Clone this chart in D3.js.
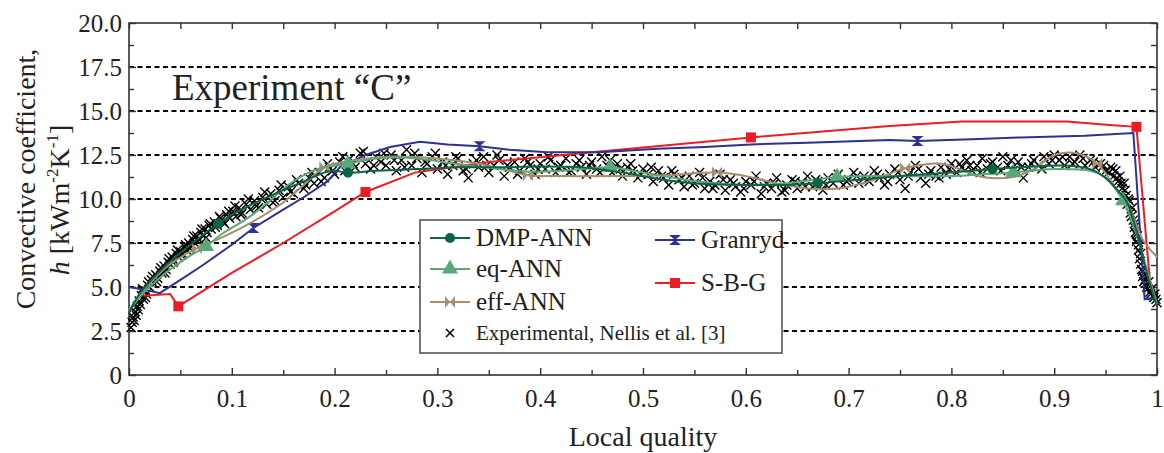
<!DOCTYPE html>
<html>
<head>
<meta charset="utf-8">
<script src="https://cdn.jsdelivr.net/npm/d3@7"></script>
<style>
  body { margin: 0; background: #fff; }
</style>
</head>
<body>
<div class="canva"></div>
<script>
// ---- data ----
const xTicks = [0, 0.1, 0.2, 0.3, 0.4, 0.5, 0.6, 0.7, 0.8, 0.9, 1];
const xTickLabels = ['0', '0.1', '0.2', '0.3', '0.4', '0.5', '0.6', '0.7', '0.8', '0.9', '1'];
const yTicks = [0, 2.5, 5, 7.5, 10, 12.5, 15, 17.5, 20];
const yTickLabels = ['0', '2.5', '5.0', '7.5', '10.0', '12.5', '15.0', '17.5', '20.0'];

const dmpX = [0, 0.005, 0.01, 0.02, 0.03, 0.045, 0.06, 0.075, 0.087, 0.1, 0.12, 0.15, 0.17, 0.19, 0.2, 0.213, 0.24, 0.28, 0.32, 0.36, 0.4, 0.44, 0.48, 0.52, 0.56, 0.6, 0.64, 0.67, 0.71, 0.75, 0.8, 0.84, 0.88, 0.91, 0.935, 0.95, 0.96, 0.97, 0.98, 0.99, 1.0];
const dmpH = [3.5, 4.1, 4.6, 5.3, 5.9, 6.7, 7.4, 8.1, 8.6, 9.1, 9.7, 10.5, 11.0, 11.5, 11.6, 11.5, 11.6, 11.7, 11.8, 11.8, 11.85, 11.8, 11.5, 11.1, 10.85, 10.8, 10.8, 10.9, 11.1, 11.3, 11.5, 11.7, 11.85, 11.9, 11.7, 11.2, 10.6, 9.9, 8.2, 5.8, 3.9];
const dmpMarkX = [0.087, 0.213, 0.67, 0.84];

const eqX = [0, 0.01, 0.02, 0.04, 0.06, 0.075, 0.09, 0.115, 0.135, 0.155, 0.175, 0.19, 0.213, 0.24, 0.27, 0.3, 0.33, 0.36, 0.39, 0.42, 0.45, 0.468, 0.5, 0.53, 0.56, 0.6, 0.64, 0.689, 0.72, 0.76, 0.8, 0.83, 0.86, 0.9, 0.935, 0.95, 0.967, 0.98, 0.99, 1.0];
const eqH = [3.6, 4.4, 5.0, 6.0, 6.8, 7.3, 8.0, 8.9, 9.8, 10.8, 11.5, 11.8, 12.0, 12.3, 12.35, 12.15, 11.9, 11.7, 11.55, 11.6, 11.75, 11.8, 11.5, 11.2, 10.95, 10.8, 10.9, 11.25, 11.3, 11.3, 11.3, 11.4, 11.5, 11.7, 11.6, 11.2, 9.9, 8.0, 6.0, 4.0];
const eqMarkX = [0.075, 0.213, 0.468, 0.689, 0.86, 0.967];

const effX = [0, 0.01, 0.02, 0.04, 0.066, 0.09, 0.12, 0.15, 0.17, 0.19, 0.22, 0.25, 0.3, 0.34, 0.37, 0.388, 0.42, 0.47, 0.52, 0.572, 0.6, 0.63, 0.66, 0.69, 0.72, 0.755, 0.79, 0.83, 0.86, 0.88, 0.9, 0.922, 0.942, 0.961, 0.974, 0.986, 1.0];
const effH = [3.7, 4.5, 5.2, 6.3, 7.2, 7.8, 8.7, 9.8, 10.8, 11.8, 12.2, 12.4, 12.3, 12.0, 11.6, 11.35, 11.3, 11.3, 11.35, 11.5, 11.3, 10.9, 10.6, 10.6, 11.0, 11.75, 12.0, 11.25, 11.25, 11.7, 12.5, 12.6, 12.0, 10.5, 9.4, 7.7, 6.7];
const effMarkX = [0.066, 0.19, 0.388, 0.572, 0.755, 0.942];

const granX = [0, 0.015, 0.03, 0.05, 0.072, 0.1, 0.121, 0.15, 0.17, 0.193, 0.205, 0.23, 0.254, 0.283, 0.31, 0.341, 0.37, 0.407, 0.458, 0.514, 0.56, 0.605, 0.66, 0.74, 0.767, 0.82, 0.867, 0.93, 0.977, 0.988, 1.0];
const granH = [5.0, 4.85, 4.65, 5.4, 6.25, 7.4, 8.35, 9.4, 10.1, 11.0, 11.8, 12.5, 12.95, 13.25, 13.1, 13.0, 12.8, 12.65, 12.65, 12.85, 12.95, 13.1, 13.2, 13.35, 13.3, 13.4, 13.5, 13.6, 13.75, 4.3, 4.4];
const granMarkX = [0.121, 0.341, 0.767];

const sbgX = [0.014, 0.04, 0.048, 0.1, 0.15, 0.2, 0.23, 0.278, 0.35, 0.458, 0.605, 0.74, 0.81, 0.912, 0.954, 0.98, 0.993, 1.0];
const sbgH = [4.5, 4.6, 3.9, 5.8, 7.5, 9.3, 10.4, 11.5, 12.1, 12.7, 13.5, 14.15, 14.4, 14.4, 14.2, 14.1, 5.4, 4.1];
const sbgMarkX = [0.048, 0.23, 0.605, 0.98];

// experimental points, Nellis et al. (two passes over the cloud)
const expX = [0.002, 0.003, 0.004, 0.005, 0.006, 0.007, 0.008, 0.009, 0.010, 0.011, 0.012, 0.014, 0.015, 0.017, 0.018, 0.020,
  0.022, 0.024, 0.026, 0.028, 0.030, 0.032, 0.034, 0.036, 0.038, 0.040, 0.042, 0.044, 0.046, 0.048, 0.050, 0.052, 0.054, 0.056, 0.058, 0.060,
  0.062, 0.064, 0.066, 0.068, 0.070, 0.072, 0.074, 0.076, 0.078, 0.080, 0.083, 0.086, 0.089, 0.092, 0.095, 0.098,
  0.101, 0.104, 0.107, 0.110, 0.114, 0.118, 0.122, 0.126, 0.130, 0.134, 0.138, 0.142, 0.146, 0.150, 0.155, 0.160, 0.165, 0.170, 0.175, 0.180, 0.185, 0.190, 0.195, 0.200,
  0.205, 0.210, 0.215, 0.220, 0.225, 0.230, 0.235, 0.240, 0.245, 0.250, 0.255, 0.260, 0.265, 0.270, 0.275, 0.280, 0.285, 0.290, 0.295, 0.300,
  0.305, 0.310, 0.315, 0.320, 0.325, 0.330, 0.335, 0.340, 0.345, 0.350, 0.355, 0.360, 0.365, 0.370, 0.375, 0.380, 0.385, 0.390, 0.395, 0.400,
  0.405, 0.410, 0.415, 0.420, 0.425, 0.430, 0.435, 0.440, 0.445, 0.450, 0.455, 0.460, 0.465, 0.470, 0.475, 0.480, 0.485, 0.490, 0.495, 0.500,
  0.505, 0.510, 0.515, 0.520, 0.525, 0.530, 0.535, 0.540, 0.545, 0.550, 0.555, 0.560, 0.565, 0.570, 0.575, 0.580, 0.585, 0.590, 0.595, 0.600,
  0.605, 0.610, 0.615, 0.620, 0.625, 0.630, 0.635, 0.640, 0.645, 0.650, 0.655, 0.660, 0.665, 0.670, 0.675, 0.680, 0.685, 0.690, 0.695, 0.700,
  0.705, 0.710, 0.715, 0.720, 0.725, 0.730, 0.735, 0.740, 0.745, 0.750, 0.755, 0.760, 0.765, 0.770, 0.775, 0.780, 0.785, 0.790, 0.795, 0.800,
  0.805, 0.810, 0.815, 0.820, 0.825, 0.830, 0.835, 0.840, 0.845, 0.850, 0.855, 0.860, 0.865, 0.870, 0.875, 0.880, 0.885, 0.890, 0.895, 0.900,
  0.905, 0.910, 0.915, 0.920, 0.925, 0.930, 0.935, 0.940, 0.945, 0.950, 0.955,
  0.958, 0.960, 0.962, 0.964, 0.966, 0.968, 0.970, 0.971, 0.973, 0.974, 0.976, 0.977, 0.978, 0.979, 0.980, 0.981, 0.982, 0.983, 0.984, 0.985,
  0.986, 0.987, 0.989, 0.990, 0.992, 0.993, 0.995, 0.996, 0.998, 0.999, 1.000];
const expH = [2.7, 3.0, 3.3, 3.1, 3.6, 3.4, 3.9, 3.7, 4.2, 4.0, 4.5, 4.3, 4.8, 4.6, 5.1, 5.0,
  5.4, 5.2, 5.7, 5.5, 5.9, 5.8, 6.2, 6.0, 6.4, 6.3, 6.7, 6.5, 6.9, 6.7, 7.0, 6.9, 7.3, 7.1, 7.5, 7.3,
  7.7, 7.5, 7.9, 7.7, 8.1, 7.9, 8.3, 8.1, 8.5, 8.3, 8.7, 8.5, 8.9, 8.7, 9.1, 8.9,
  9.3, 9.0, 9.5, 9.2, 9.7, 9.4, 9.9, 9.5, 10.1, 9.7, 10.3, 9.9, 10.5, 10.1, 10.7, 10.3, 10.9, 10.6, 11.2, 10.9, 11.5, 11.2, 11.8, 11.4,
  12.1, 11.6, 12.3, 11.8, 12.6, 12.0, 11.7, 12.4, 12.1, 11.9, 12.5, 11.6, 12.2, 12.8, 11.9, 12.3, 11.5, 12.0, 12.4, 11.7,
  12.1, 11.4, 11.9, 12.3, 11.6, 11.2, 12.0, 11.8, 12.4, 11.5, 11.9, 12.2, 11.3, 11.8, 12.1, 11.6, 12.3, 11.9, 11.4, 12.0,
  11.7, 12.2, 11.5, 11.9, 12.3, 11.6, 12.0, 11.8, 11.4, 12.1, 11.7, 12.4, 11.9, 11.5, 12.0, 11.3, 11.8, 11.6, 11.2, 11.7,
  11.4, 11.0, 11.6, 11.2, 10.8, 11.4, 11.1, 10.7, 11.3, 10.9, 11.5, 10.6, 11.0, 10.8, 11.4, 10.5, 11.1, 10.7, 10.4, 11.0,
  10.8, 11.3, 10.3, 10.9, 10.6, 11.2, 10.4, 10.8, 11.1, 10.6, 10.9, 11.3, 10.7, 11.0, 10.5, 11.2, 10.9, 11.4, 10.8, 11.1,
  11.5, 10.9, 11.3, 11.0, 11.6, 11.2, 10.8, 11.4, 11.7, 11.1, 10.6, 11.5, 11.9, 11.2, 10.9, 11.6, 11.3, 11.8, 11.4, 12.0,
  11.5, 11.8, 12.2, 11.6, 11.9, 12.3, 11.7, 12.1, 11.8, 12.4, 11.9, 11.6, 12.1, 11.2, 11.8, 12.2, 11.9, 12.4, 12.0, 12.5,
  12.2, 11.9, 12.4, 12.1, 12.5, 11.9, 12.2, 11.8, 12.0, 11.6, 11.8,
  11.3, 11.6, 11.0, 11.3, 10.6, 10.9, 10.2, 9.7, 9.9, 9.2, 9.5, 8.8, 8.4, 8.1, 7.6, 7.9, 7.1, 6.6, 6.9, 6.0,
  5.6, 5.3, 5.6, 5.0, 5.3, 4.7, 4.9, 4.5, 4.6, 4.3, 4.1];
const expX2 = [0.013, 0.016, 0.019, 0.023, 0.027, 0.031, 0.035, 0.039, 0.043, 0.047, 0.051, 0.055, 0.059, 0.063, 0.067, 0.071, 0.075, 0.079, 0.084, 0.088, 0.093, 0.097,
  0.103, 0.109, 0.116, 0.124, 0.132, 0.140, 0.148, 0.157, 0.163, 0.172, 0.178, 0.187, 0.193, 0.198,
  0.208, 0.218, 0.228, 0.238, 0.248, 0.258, 0.268, 0.278, 0.288, 0.298, 0.308, 0.318, 0.328, 0.338, 0.348, 0.358, 0.368, 0.378, 0.388, 0.398,
  0.408, 0.418, 0.428, 0.438, 0.448, 0.458, 0.468, 0.478, 0.488, 0.498, 0.508, 0.518, 0.528, 0.538, 0.548, 0.558, 0.568, 0.578, 0.588, 0.598,
  0.608, 0.618, 0.628, 0.638, 0.648, 0.658, 0.668, 0.678, 0.688, 0.698, 0.708, 0.718, 0.728, 0.738, 0.748, 0.758, 0.768, 0.778, 0.788, 0.798,
  0.808, 0.818, 0.828, 0.838, 0.848, 0.858, 0.868, 0.878, 0.888, 0.898, 0.908, 0.918, 0.928, 0.938, 0.948,
  0.953, 0.957, 0.961, 0.965, 0.969, 0.972, 0.975, 0.978, 0.980, 0.982, 0.984, 0.986, 0.988, 0.991, 0.994, 0.997];
const expH2 = [4.9, 4.4, 5.3, 5.6, 5.3, 6.1, 5.8, 6.6, 6.4, 7.1, 6.8, 7.4, 7.2, 7.9, 7.6, 8.3, 7.8, 8.6, 8.4, 9.0, 8.6, 9.3,
  9.6, 9.1, 10.0, 9.6, 10.4, 9.8, 10.8, 10.4, 11.1, 10.8, 11.5, 11.0, 12.0, 11.6,
  12.4, 12.0, 12.7, 11.9, 12.6, 12.2, 11.8, 12.6, 12.1, 12.6, 11.9, 12.4, 11.7, 12.2, 11.9, 12.5, 11.9, 11.4, 12.1, 11.7,
  12.4, 11.8, 11.5, 12.2, 11.9, 11.5, 12.2, 11.7, 12.0, 11.4, 11.8, 11.3, 11.6, 11.2, 10.8, 11.2, 10.6, 11.1, 10.9, 10.6,
  11.0, 10.7, 10.9, 10.5, 11.0, 10.7, 11.1, 10.8, 11.2, 11.0, 11.3, 11.1, 11.4, 11.0, 11.5, 11.3, 11.7, 11.4, 11.2, 11.7,
  12.0, 11.9, 11.5, 12.0, 11.6, 12.2, 11.8, 12.0, 11.7, 12.2, 12.4, 12.0, 12.3, 12.1, 11.9,
  11.5, 11.7, 11.2, 10.9, 10.5, 10.0, 9.0, 8.6, 8.0, 7.4, 6.3, 5.9, 5.4, 4.9, 4.6, 4.4];

// ---- layout ----
const W = 1164, H = 453;
const margin = {top: 23, right: 7, bottom: 78, left: 129};
const gw = W - margin.left - margin.right;
const gh = H - margin.top - margin.bottom;
const serif = '"Liberation Serif", "Times New Roman", "DejaVu Serif", serif';

const svg = d3.select('.canva').append('svg')
              .attr('width', W)
              .attr('height', H)
              .style('font-family', serif);

const graph = svg.append('g')
                 .attr('transform', `translate(${margin.left}, ${margin.top})`);

const x = d3.scaleLinear().domain([0, 1]).range([0, gw]);
const y = d3.scaleLinear().domain([0, 20]).range([gh, 0]);

//dashed grid
graph.append('g')
     .selectAll('line')
     .data(yTicks.filter(t => t > 0 && t < 20))
     .enter().append('line')
     .attr('x1', 0).attr('x2', gw)
     .attr('y1', d => y(d)).attr('y2', d => y(d))
     .attr('stroke', '#000')
     .attr('stroke-width', 2)
     .attr('stroke-dasharray', '5,3.5');

//axes with inward ticks
const axisColor = '#333';
function styleAxis(g) {
  g.select('.domain').remove();
  g.selectAll('.tick line').attr('stroke', axisColor).attr('stroke-width', 1.4);
  g.selectAll('text').style('font-family', serif).attr('fill', '#222').attr('font-size', 25);
}
const minorX = d3.range(0.05, 1, 0.1);
const minorY = d3.range(1.25, 20, 2.5);

graph.append('g').attr('transform', `translate(0, ${gh})`)
  .call(d3.axisBottom(x).tickValues(xTicks).tickSize(-7).tickPadding(14)
        .tickFormat((d, i) => xTickLabels[i]))
  .call(styleAxis);
graph.append('g').attr('transform', `translate(0, ${gh})`)
  .call(d3.axisBottom(x).tickValues(minorX).tickSize(-5).tickFormat(''))
  .call(styleAxis);

graph.append('g')
  .call(d3.axisLeft(y).tickValues(yTicks).tickSize(-7).tickPadding(7)
        .tickFormat((d, i) => yTickLabels[i]))
  .call(styleAxis)
  .selectAll('text').attr('dy', '0.34em');
graph.append('g')
  .call(d3.axisLeft(y).tickValues(minorY).tickSize(-5).tickFormat(''))
  .call(styleAxis);

graph.append('g')
  .call(d3.axisTop(x).tickValues(xTicks.concat(minorX)).tickSize(-6).tickFormat(''))
  .call(styleAxis);
graph.append('g').attr('transform', `translate(${gw}, 0)`)
  .call(d3.axisRight(y).tickValues(yTicks.concat(minorY)).tickSize(-6).tickFormat(''))
  .call(styleAxis);

//frame
graph.append('rect')
     .attr('width', gw).attr('height', gh)
     .attr('fill', 'none')
     .attr('stroke', axisColor)
     .attr('stroke-width', 1.6);

//experimental crosses
const cross = 'M-4.5,-4.5L4.5,4.5M-4.5,4.5L4.5,-4.5';
const expPts = expX.map((d, i) => [d, expH[i]])
                   .concat(expX2.map((d, i) => [d, expH2[i]]));
graph.append('g')
     .selectAll('path')
     .data(expPts)
     .enter().append('path')
     .attr('d', cross)
     .attr('transform', d => `translate(${x(d[0])}, ${y(d[1])})`)
     .attr('stroke', '#000')
     .attr('stroke-width', 1.4)
     .attr('fill', 'none');

//marker shapes
const shapes = {
  circle: d3.symbol(d3.symbolCircle, 80)(),
  triangle: d3.symbol(d3.symbolTriangle, 110)(),
  square: d3.symbol(d3.symbolSquare, 100)(),
  hourglass: 'M-6,-5L6,-5L-6,5L6,5Z',
  bowtie: 'M-5,-6L-5,6L5,-6L5,6Z'
};

const series = [
  {name: 'S-B-G', xs: sbgX, hs: sbgH, marks: sbgMarkX, color: '#ed1c24', shape: 'square', curve: d3.curveLinear},
  {name: 'Granryd', xs: granX, hs: granH, marks: granMarkX, color: '#2e3192', shape: 'hourglass', curve: d3.curveLinear},
  {name: 'eff-ANN', xs: effX, hs: effH, marks: effMarkX, color: '#a88d6e', shape: 'bowtie', curve: d3.curveCatmullRom},
  {name: 'eq-ANN', xs: eqX, hs: eqH, marks: eqMarkX, color: '#5aa87a', shape: 'triangle', curve: d3.curveCatmullRom},
  {name: 'DMP-ANN', xs: dmpX, hs: dmpH, marks: dmpMarkX, color: '#0b6446', shape: 'circle', curve: d3.curveCatmullRom}
];

series.forEach(s => {
  const pts = s.xs.map((d, i) => [d, s.hs[i]]);
  const line = d3.line().x(d => x(d[0])).y(d => y(d[1])).curve(s.curve);
  graph.append('path')
       .datum(pts)
       .attr('d', line)
       .attr('fill', 'none')
       .attr('stroke', s.color)
       .attr('stroke-width', 2);
  // markers sit on the series at the listed qualities
  const interp = q => {
    let j = d3.bisectLeft(s.xs, q);
    if (j <= 0) return s.hs[0];
    if (j >= s.xs.length) return s.hs[s.hs.length - 1];
    if (s.xs[j] === q) return s.hs[j];
    const t = (q - s.xs[j - 1]) / (s.xs[j] - s.xs[j - 1]);
    return s.hs[j - 1] + t * (s.hs[j] - s.hs[j - 1]);
  };
  graph.append('g')
       .selectAll('path')
       .data(s.marks)
       .enter().append('path')
       .attr('d', shapes[s.shape])
       .attr('transform', d => `translate(${x(d)}, ${y(interp(d))})`)
       .attr('fill', s.color);
});

//title inside plot
graph.append('text')
     .attr('x', 43).attr('y', 77)
     .attr('font-size', 37)
     .attr('fill', '#222')
     .text('Experiment \u201cC\u201d');

//axis titles
svg.append('text')
   .attr('x', 643).attr('y', 446)
   .attr('text-anchor', 'middle')
   .attr('font-size', 28)
   .attr('fill', '#222')
   .text('Local quality');

svg.append('text')
   .attr('transform', 'translate(35, 179) rotate(-90)')
   .attr('text-anchor', 'middle')
   .attr('font-size', 28)
   .attr('fill', '#222')
   .text('Convective coefficient,');

const yl2 = svg.append('text')
   .attr('transform', 'translate(69, 200) rotate(-90)')
   .attr('text-anchor', 'middle')
   .attr('font-size', 28)
   .attr('fill', '#222');
yl2.append('tspan').attr('font-style', 'italic').text('h');
yl2.append('tspan').text(' [kWm');
yl2.append('tspan').attr('font-size', 17).attr('dy', -11).text('-2');
yl2.append('tspan').attr('dy', 11).text('K');
yl2.append('tspan').attr('font-size', 17).attr('dy', -11).text('-1');
yl2.append('tspan').attr('dy', 11).text(']');

//legend
const legend = svg.append('g');
legend.append('rect')
      .attr('x', 420).attr('y', 220)
      .attr('width', 362).attr('height', 133)
      .attr('fill', '#fff')
      .attr('stroke', '#555')
      .attr('stroke-width', 1.6);

const legendItems = [
  {s: series[4], lx: 430, ly: 238},
  {s: series[3], lx: 430, ly: 269},
  {s: series[2], lx: 430, ly: 302},
  {s: series[1], lx: 655, ly: 240},
  {s: series[0], lx: 655, ly: 283}
];
legendItems.forEach(d => {
  legend.append('line')
        .attr('x1', d.lx).attr('x2', d.lx + 40)
        .attr('y1', d.ly).attr('y2', d.ly)
        .attr('stroke', d.s.color).attr('stroke-width', 2);
  legend.append('path')
        .attr('d', shapes[d.s.shape])
        .attr('transform', `translate(${d.lx + 20}, ${d.ly})`)
        .attr('fill', d.s.color);
  legend.append('text')
        .attr('x', d.lx + 46).attr('y', d.ly + 8)
        .attr('font-size', 25)
        .attr('fill', '#222')
        .text(d.s.name);
});
legend.append('path')
      .attr('d', 'M-4,-4L4,4M-4,4L4,-4')
      .attr('transform', 'translate(450, 333)')
      .attr('stroke', '#000').attr('stroke-width', 1.5);
legend.append('text')
      .attr('x', 476).attr('y', 340)
      .attr('font-size', 21)
      .attr('fill', '#222')
      .text('Experimental, Nellis et al. [3]');
</script>
</body>
</html>
